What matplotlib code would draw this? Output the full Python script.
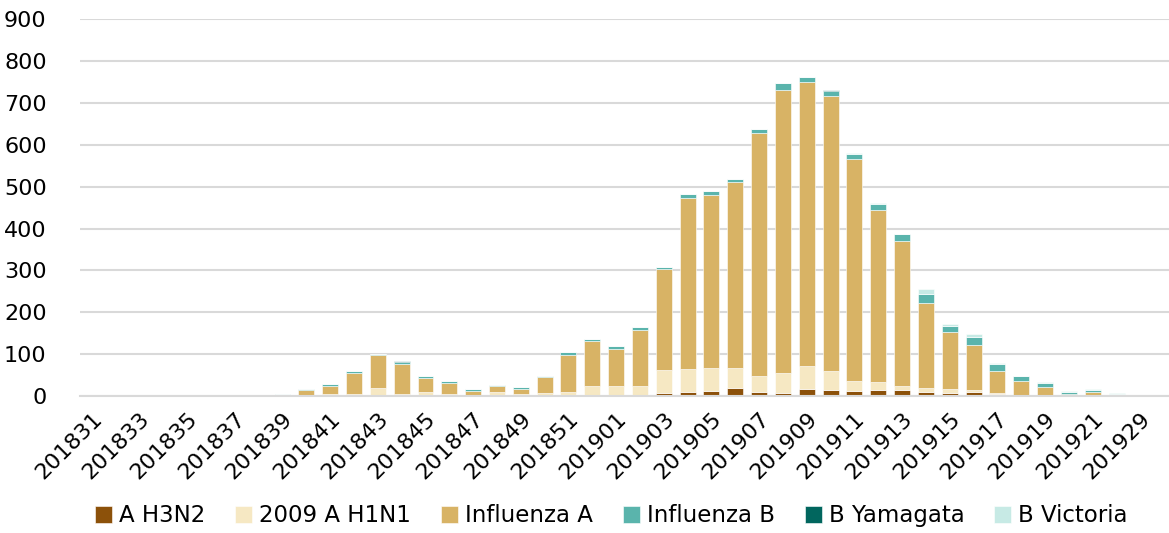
import numpy as np
import matplotlib.pyplot as plt
import matplotlib.transforms as mtransforms

weeks = ([f"2018{w}" for w in range(31, 53)] +
         [f"2019{w:02d}" for w in range(1, 23)] + ["201929"])

a_h3n2 = [0, 0, 0, 0, 0, 0, 0, 0, 0, 0, 0, 0, 1, 0, 0, 0, 0, 0, 0, 0, 0, 0,
          0, 0, 7, 9, 13, 20, 10, 7, 17, 14, 13, 14, 14, 10, 8, 10, 6, 1, 0, 0, 0, 0, 0]
a_h1n1 = [0, 0, 0, 0, 0, 0, 0, 0, 0, 2, 6, 6, 17, 6, 9, 6, 1, 10, 6, 7, 9, 23,
          25, 25, 56, 56, 55, 46, 39, 49, 54, 46, 24, 20, 10, 8, 9, 4, 1, 1, 1, 1, 2, 0, 0]
infl_a = [0, 0, 0, 0, 1, 1, 1, 1, 1, 12, 17, 48, 79, 70, 33, 24, 10, 15, 11, 38, 89, 108,
          88, 133, 240, 408, 411, 446, 578, 676, 679, 657, 528, 411, 346, 204, 136, 108, 53, 35, 21, 4, 7, 2, 0]
infl_b = [0, 0, 0, 0, 0, 0, 0, 0, 3, 3, 5, 5, 4, 5, 6, 6, 5, 1, 4, 3, 6, 4,
          7, 7, 5, 9, 10, 7, 10, 16, 13, 11, 12, 14, 16, 21, 15, 20, 16, 10, 9, 5, 6, 4, 0]
b_yamagata = [0, 0, 0, 0, 0, 0, 0, 0, 0, 0, 0, 0, 0, 2, 0, 0, 0, 0, 0, 0, 0, 0,
              0, 0, 0, 0, 0, 0, 0, 0, 0, 2, 0, 0, 0, 0, 0, 0, 0, 0, 0, 0, 0, 0, 0]
b_victoria = [0, 0, 0, 0, 0, 0, 0, 0, 0, 0, 0, 0, 0, 0, 0, 0, 0, 0, 1, 0, 0, 0,
              0, 1, 0, 0, 0, 0, 0, 0, 0, 0, 3, 2, 0, 12, 4, 7, 3, 2, 2, 2, 2, 1, 0]

series = [("A H3N2", a_h3n2, "#8c510a"),
          ("2009 A H1N1", a_h1n1, "#f6e8c3"),
          ("Influenza A", infl_a, "#d8b365"),
          ("Influenza B", infl_b, "#5ab4ac"),
          ("B Yamagata", b_yamagata, "#01665e"),
          ("B Victoria", b_victoria, "#c7eae5")]

plt.rcParams['font.family'] = ['DejaVu Sans']

fig = plt.figure(figsize=(11.69, 5.33), dpi=100)
ax = fig.add_axes([0.0684, 0.257, 0.9316, 0.707])

x = np.arange(len(weeks))
bottom = np.zeros(len(weeks))
for name, vals, color in series:
    vals = np.array(vals, dtype=float)
    ax.bar(x, vals, 0.67, bottom=bottom, color=color, label=name,
           edgecolor="white", linewidth=0.4)
    bottom += vals

ax.set_ylim(0, 900)
ax.set_xlim(-0.5, 45.2)
ax.set_yticks(range(0, 901, 100))
ax.yaxis.grid(True, color="#d9d9d9", linewidth=1.5)
ax.set_axisbelow(True)
for s in ["top", "right", "left"]:
    ax.spines[s].set_visible(False)
ax.spines["bottom"].set_color("#d9d9d9")
ax.spines["bottom"].set_linewidth(1.5)

ax.set_xticks(x[::2])
ax.set_xticklabels(weeks[::2], rotation=45, ha="right", va="top",
                   rotation_mode="anchor", fontsize=16)
shift = mtransforms.ScaledTranslation(-6 / 100, 0, fig.dpi_scale_trans)
for lbl in ax.get_xticklabels():
    lbl.set_transform(lbl.get_transform() + shift)
ax.tick_params(axis="x", length=0, pad=9)
ax.tick_params(axis="y", length=0, pad=24, labelsize=16)

fig.legend(*ax.get_legend_handles_labels(), loc="center",
           bbox_to_anchor=(0.523, 0.032), ncol=6, frameon=False,
           fontsize=16.5, handlelength=0.75, handleheight=0.75,
           handletextpad=0.3, columnspacing=1.3)

fig.savefig("out.png", dpi=100)
